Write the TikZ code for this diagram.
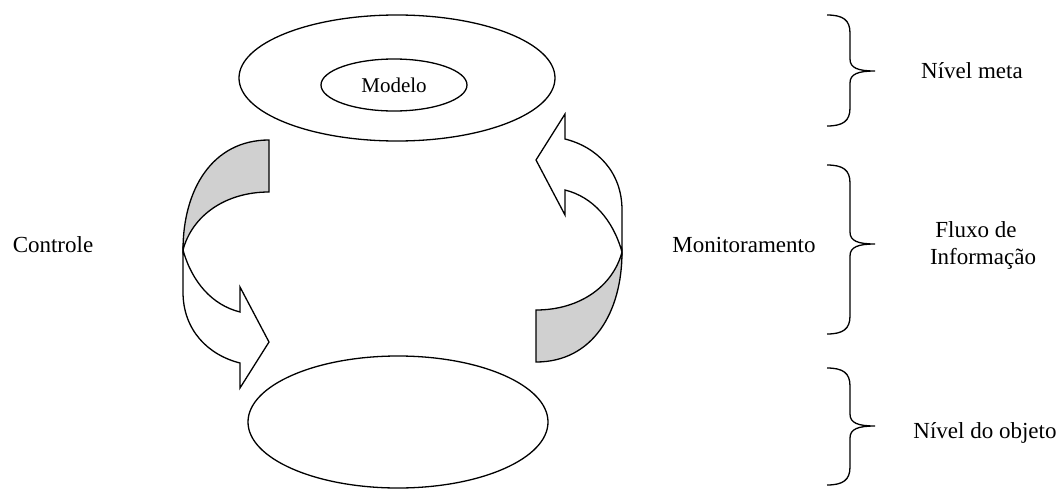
\documentclass[tikz,border=0pt]{standalone}
\usepackage{fontspec}
\setmainfont{Liberation Serif}
\usetikzlibrary{shapes.geometric}
\definecolor{bandgray}{RGB}{208,208,208}

% one curved band arrow: the shaded back part and the white front part with its head
\newcommand\bandback{(269,140) -- (269,192) .. controls (225,192) and (192,216) .. (183,250)
  .. controls (183,190) and (212,140) .. (269,140) -- cycle}
\newcommand\bandfront{(183,250) .. controls (192,282) and (212,305) .. (240,312) -- (240,287)
  -- (269,342) -- (240,388) -- (240,363) .. controls (208,355) and (183,330) .. (183,292) -- cycle}
% curly brace at the right: top, tip and bottom heights
\newcommand\levelbrace[3]{%
  \draw[bracepath] (827,#1) .. controls (843,#1) and (850,#1+5) .. (850,#1+18) -- (850,#2-12)
    .. controls (850,#2-3) and (858,#2) .. (875,#2)
    .. controls (858,#2) and (850,#2+3) .. (850,#2+12) -- (850,#3-18)
    .. controls (850,#3-5) and (843,#3) .. (827,#3);}

\begin{document}
\begin{tikzpicture}[x=1pt,y=-1pt,
  outline/.style={draw=black,line width=1.3pt,line join=miter},
  level/.style={ellipse,draw=black,line width=1.3pt,inner sep=0pt},
  lbl/.style={font=\fontsize{23}{27}\selectfont,inner sep=0pt,anchor=base},
  bracepath/.style={draw=black,line width=1.3pt}]
\useasboundingbox (0,0) rectangle (1060,490);

% levels
\node[level,minimum width=316pt,minimum height=126pt] (meta) at (397,78) {};
\node[level,minimum width=146pt,minimum height=52pt,font=\fontsize{21}{25}\selectfont] (modelo) at (394,85) {Modelo};
\node[level,minimum width=300pt,minimum height=132pt] (objeto) at (398,422) {};

% control arrow (left)
\path[outline,fill=bandgray] \bandback;
\path[outline,fill=white] \bandfront;

% monitoring arrow (right), the same arrow turned half way round
\begin{scope}[rotate around={180:(402.5,251)}]
  \path[outline,fill=bandgray] \bandback;
  \path[outline,fill=white] \bandfront;
\end{scope}

% braces
\levelbrace{15}{71}{126}
\levelbrace{165}{244}{334}
\levelbrace{368}{426}{485}

% labels
\node[lbl] (controle) at (53,252) {Controle};
\node[lbl] (monit) at (744,252) {Monitoramento};
\node[lbl] (nmeta) at (972,78) {Nível meta};
\node[lbl] (fluxo) at (976,237) {Fluxo de};
\node[lbl] (info) at (983,264) {Informação};
\node[lbl] (nobj) at (985,438) {Nível do objeto};
\end{tikzpicture}
\end{document}
